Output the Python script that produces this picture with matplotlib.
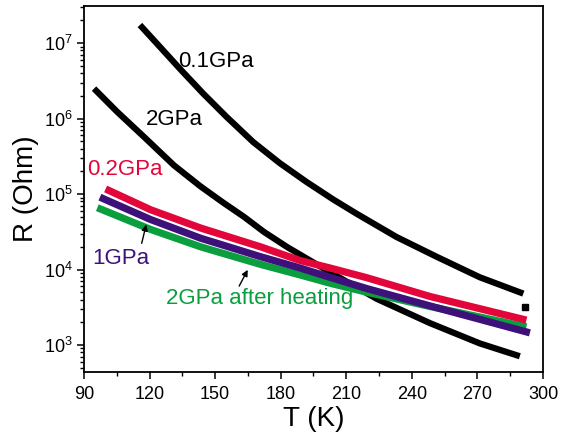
import matplotlib
matplotlib.use("Agg")
import matplotlib.pyplot as plt
from matplotlib.ticker import LogLocator, MultipleLocator, NullFormatter

plt.rcParams['font.family'] = ['Liberation Sans', 'DejaVu Sans']
plt.rcParams['mathtext.fontset'] = 'custom'
plt.rcParams['mathtext.rm'] = 'Liberation Sans'
plt.rcParams['mathtext.it'] = 'Liberation Sans:italic'
plt.rcParams['mathtext.bf'] = 'Liberation Sans:bold'

# Resistance vs temperature at several pressures
T_01GPa = [115.6, 124.8, 133.9, 144.6, 155.3, 167.4, 179.6, 191.8, 204.0,
           214.7, 233.0, 251.3, 271.1, 291.0]
R_01GPa = [1.74e7, 8.9e6, 4.57e6, 2.14e6, 1.05e6, 4.9e5, 2.57e5, 1.45e5, 8.5e4,
           5.5e4, 2.7e4, 1.48e4, 7.9e3, 4.8e3]

T_2GPa = [94.6, 105.2, 117.4, 131.2, 143.4, 154.0, 163.2, 172.3, 182.8,
          201.0, 223.9, 248.3, 271.1, 289.4]
R_2GPa = [2.5e6, 1.23e6, 5.75e5, 2.4e5, 1.26e5, 7.6e4, 5.0e4, 3.16e4, 2.0e4,
          9.8e3, 4.1e3, 1.95e3, 1.05e3, 7.1e2]

T_02GPa = [99.9, 120.5, 143.4, 170.8, 188.8, 202.5, 219.4, 248.3, 292.4]
R_02GPa = [1.17e5, 6.2e4, 3.55e4, 2.0e4, 1.32e4, 1.05e4, 7.8e3, 4.4e3, 2.14e3]

T_1GPa = [97.3, 120.5, 143.4, 170.8, 188.8, 202.5, 219.4, 248.3, 294.0]
R_1GPa = [9.1e4, 4.6e4, 2.6e4, 1.48e4, 1.05e4, 7.9e3, 5.6e3, 3.3e3, 1.45e3]

T_2GPa_heat = [96.1, 120.5, 143.4, 170.8, 188.8, 202.5, 219.4, 248.3, 292.4]
R_2GPa_heat = [6.6e4, 3.4e4, 2.0e4, 1.17e4, 8.5e3, 6.6e3, 5.0e3, 3.24e3, 1.74e3]

# stray single reading of the 0.1 GPa run
T_stray = [291.7]
R_stray = [3.16e3]

RED = '#e2063a'
PURPLE = '#3d1179'
GREEN = '#0a9e3f'

fig = plt.figure(figsize=(5.74, 4.34), dpi=100)
ax = fig.add_axes([0.1463, 0.143, 0.7997, 0.843])

line_kw = dict(solid_capstyle='butt', solid_joinstyle='round')
ax.plot(T_01GPa, R_01GPa, color='black', lw=4.5, **line_kw)
ax.plot(T_2GPa, R_2GPa, color='black', lw=4.5, **line_kw)
ax.plot(T_stray, R_stray, 's', color='black', ms=4.5)
ax.plot(T_2GPa_heat, R_2GPa_heat, color=GREEN, lw=5.2, **line_kw)
ax.plot(T_1GPa, R_1GPa, color=PURPLE, lw=5.2, **line_kw)
ax.plot(T_02GPa, R_02GPa, color=RED, lw=5.2, **line_kw)

ax.set_yscale('log')
ax.set_xlim(90, 300)
ax.set_ylim(440, 3.1e7)

ax.xaxis.set_major_locator(MultipleLocator(30))
ax.xaxis.set_minor_locator(MultipleLocator(15))
ax.yaxis.set_major_locator(LogLocator(base=10, numticks=20))
ax.yaxis.set_minor_locator(LogLocator(base=10, subs=range(2, 10), numticks=20))
ax.yaxis.set_minor_formatter(NullFormatter())

ax.tick_params(axis='both', which='major', direction='out', length=5, width=1.1,
               labelsize=13, top=False, right=False)
ax.tick_params(axis='both', which='minor', direction='out', length=3, width=1.0,
               top=False, right=False)
ax.tick_params(axis='x', which='major', pad=5)
ax.tick_params(axis='y', which='major', pad=3)

for s in ax.spines.values():
    s.set_linewidth(1.3)

ax.set_xlabel('T (K)', fontsize=20, labelpad=2)
ax.set_ylabel('R (Ohm)', fontsize=20, labelpad=4)

ax.text(150.4, 5.8e6, '0.1GPa', fontsize=16, color='black', ha='center', va='center')
ax.text(131.2, 9.6e5, '2GPa', fontsize=16, color='black', ha='center', va='center')
ax.text(108.8, 2.1e5, '0.2GPa', fontsize=16, color=RED, ha='center', va='center')
ax.text(106.9, 1.4e4, '1GPa', fontsize=16, color=PURPLE, ha='center', va='center')
ax.text(170.5, 4.1e3, '2GPa after heating', fontsize=16, color=GREEN, ha='center', va='center')

arrow = dict(arrowstyle='-|>', color='black', lw=1.0, mutation_scale=9)
ax.annotate('', xy=(118.8, 4.3e4), xytext=(116.1, 2.05e4), arrowprops=arrow)
ax.annotate('', xy=(165.5, 1.07e4), xytext=(160.4, 5.6e3), arrowprops=arrow)

fig.savefig('out.png', dpi=100)
